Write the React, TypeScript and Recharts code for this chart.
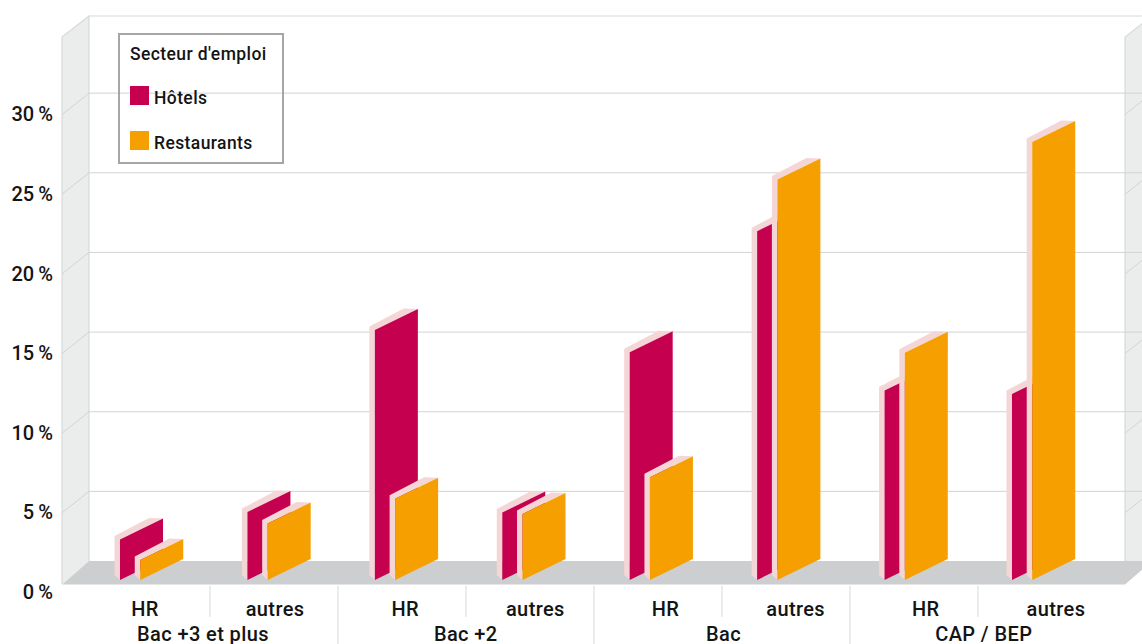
import { Bar, BarChart, CartesianGrid, Legend, XAxis, YAxis } from 'recharts';

const categories = ['HR', 'autres', 'HR', 'autres', 'HR', 'autres', 'HR', 'autres'];
const groups = ['Bac +3 et plus', 'Bac +2', 'Bac', 'CAP / BEP'];
const hotels = [2.55, 4.27, 15.7, 4.24, 14.3, 21.9, 11.9, 11.68];
const restaurants = [1.25, 3.55, 5.1, 4.15, 6.45, 25.15, 14.27, 27.5];
const yTicks = [0, 5, 10, 15, 20, 25, 30];

const rows = categories.map((label, i) => ({ label, hotels: hotels[i], restaurants: restaurants[i] }));

const FONT = 'Roboto, sans-serif';
const TEXT = '#141414';
const PINK = '#f5d6d6';
const GRID = '#d2d3d3';
const WALL = '#ebeded';
const EDGE = '#d8d9d9';
const FLOOR = '#cdcecf';

// depth of the box the bars stand in
const WALL_DX = 27;
const WALL_DY = 21;
const PLOT_LEFT = 62;
const PLOT_RIGHT = 1125;

// slanted bar: front face plus a pale left edge and top
const SlabBar = ({ x, y, width, height, fill }: any) => {
  const x0 = x + 5.5;
  const top = y - 12;
  const base = y + height - 12;
  const rise = 21;
  const edge = `${x0},${base} ${x0 - 5.5},${base - 5} ${x0 - 5.5},${top - 3.5} ${x0 + width - 14},${top - rise - 0.5} ${x0 + width},${top - rise} ${x0},${top}`;
  const face = `${x0},${top} ${x0 + width},${top - rise} ${x0 + width},${base - rise} ${x0},${base}`;
  return (
    <g>
      <polygon points={edge} fill={PINK} />
      <polygon points={face} fill={fill} />
    </g>
  );
};

// one back-wall line with its diagonals on both side walls
const GridLine = ({ y1 }: any) => {
  const y = Number(y1);
  if (y > 580 || y < 50) return null;
  const back = y - WALL_DY;
  return (
    <g stroke={GRID} strokeWidth={1}>
      <line x1={PLOT_LEFT + WALL_DX} x2={1142} y1={back} y2={back} />
      <line x1={PLOT_LEFT} x2={PLOT_LEFT + WALL_DX} y1={y + 0.5} y2={back} />
      <line x1={PLOT_RIGHT} x2={PLOT_RIGHT + WALL_DX} y1={y + 0.5} y2={back} />
    </g>
  );
};

// two-level axis label: detail under each bar pair, education level under every second one.
// The printed labels run a little wider than the bars, hence the per-index nudges.
const CategoryTick = ({ x, y, index, payload }: any) => {
  const odd = index % 2 === 1;
  const labelX = x - 1.25 + index * 2.71;
  const dividerX = x + 63.75 + index * 0.57;
  const groupNudge = [-7, -4.5, -7, -7];
  return (
    <g fontFamily={FONT} fill={TEXT} textAnchor="middle" fontSize={20} fontWeight={500} letterSpacing={0.4}>
      <text x={labelX} y={y + 16}>{payload.value}</text>
      {odd ? null : (
        <text x={labelX + 65 + groupNudge[index / 2]} y={y + 41}>{groups[index / 2]}</text>
      )}
      {index === categories.length - 1 ? null : (
        <line x1={dividerX} x2={dividerX} y1={y - 14} y2={odd ? y + 44 : y + 17} stroke={EDGE} strokeWidth={1} />
      )}
    </g>
  );
};

const LegendBox = ({ payload }: any) => (
  <div style={{ width: 166, height: 131, boxSizing: 'border-box', border: '2px solid #a6a6a6', fontFamily: FONT, fontSize: 17.5, fontWeight: 500, letterSpacing: 0.4, color: TEXT, position: 'relative', textAlign: 'left' }}>
    <div style={{ position: 'absolute', left: 10, top: 9 }}>Secteur d'emploi</div>
    {(payload || []).map((item: any, i: number) => (
      <div key={item.value}>
        <div style={{ position: 'absolute', left: 10, top: 51 + i * 45, width: 19, height: 19, background: item.color }} />
        <div style={{ position: 'absolute', left: 34, top: 53 + i * 45 }}>{item.value}</div>
      </div>
    ))}
  </div>
);

export default function App() {
  return (
    <div style={{ position: 'absolute', left: 0, top: 0, width: 1142, height: 644, overflow: 'hidden', background: '#fff' }}>
      <svg width={1142} height={644} style={{ position: 'absolute', left: 0, top: 0 }}>
        <polygon points="62,37 89,16 89,561 62,584" fill={WALL} />
        <polygon points="1125,37 1152,16 1152,561 1125,584" fill={WALL} />
        <polygon points="89,561 1152,561 1125,584.5 62,584.5" fill={FLOOR} />
        <line x1={89} x2={1142} y1={16} y2={16} stroke={EDGE} strokeWidth={1.2} />
        <polyline points="62,584 62,37 89,16 89,561" fill="none" stroke={EDGE} strokeWidth={1.2} />
        <polyline points="1125,561 1125,37 1152,16" fill="none" stroke={EDGE} strokeWidth={1.2} />
      </svg>
      <BarChart
        width={1142}
        height={644}
        data={rows}
        margin={{ top: 34.5, right: 17, bottom: 0, left: 0 }}
        barSize={43}
        barGap={-22.75}
        style={{ position: 'absolute', left: 0, top: 0 }}
      >
        <CartesianGrid vertical={false} horizontal={(props: any) => <GridLine key={props.key} {...props} />} />
        <XAxis
          dataKey="label"
          height={52}
          interval={0}
          axisLine={false}
          tickLine={false}
          padding={{ left: 20.5, right: 23.1 }}
          tick={(props: any) => <CategoryTick {...props} />}
        />
        <YAxis
          width={62}
          domain={[0, 35]}
          ticks={yTicks}
          axisLine={false}
          tickLine={false}
          tickSize={0}
          tickMargin={9}
          tickFormatter={(v: number) => `${v}\u2009%`}
          tick={{ fill: TEXT, fontSize: 20, fontWeight: 500, fontFamily: FONT }}
        />
        <Legend
          layout="vertical"
          align="center"
          verticalAlign="middle"
          content={<LegendBox />}
          wrapperStyle={{ left: 118, top: 33, width: 166 }}
        />
        <Bar dataKey="hotels" name="Hôtels" fill="#c4004f" shape={<SlabBar />} isAnimationActive={false} />
        <Bar dataKey="restaurants" name="Restaurants" fill="#f5a000" shape={<SlabBar />} isAnimationActive={false} />
      </BarChart>
    </div>
  );
}
